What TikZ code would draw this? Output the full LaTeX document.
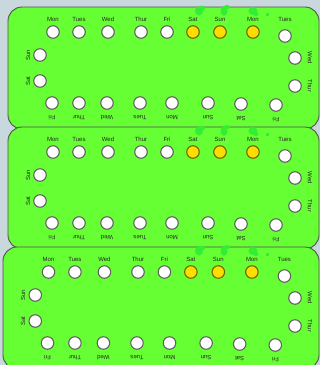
\documentclass[tikz,border=0pt]{standalone}
\usepackage{fontspec}
\setmainfont{Liberation Sans}
\definecolor{bgc}{HTML}{C9D8DC}
\definecolor{panelg}{HTML}{66FF33}
\definecolor{blobg}{HTML}{33EE33}
\definecolor{pillw}{HTML}{FFFFFF}
\definecolor{pilly}{HTML}{FFDD00}
\definecolor{edgeg}{HTML}{505050}
\tikzset{
  panelbox/.style={fill=panelg, draw=edgeg, line width=0.9pt, rounded corners=14pt},
  pill/.style={circle, draw=edgeg!90, line width=1.1pt, fill=pillw, minimum size=12.5pt, inner sep=0pt},
  ypill/.style={pill, fill=pilly, draw=black!55!pilly},
  lab/.style={font=\fontsize{6}{6}\selectfont, text=black!85, inner sep=0pt},
  blob/.style={fill=blobg, draw=none}
}
\newcommand\drawpanel[4]{%
  \draw[panelbox] (#3,7+#2) rectangle (319,129+#2);
  % blobs
  \fill[blob] (199,{11+#2}) ellipse (4pt and 4.5pt);
  \fill[blob] (202,{8+#2}) ellipse (3pt and 2.5pt);
  \fill[blob] (224,{11+#2}) ellipse (3.5pt and 5pt);
  \fill[blob] (227,{7+#2}) ellipse (3pt and 2pt);
  \fill[blob] (253,{11+#2}) ellipse (4.5pt and 4pt);
  \fill[blob] (256,{14+#2}) ellipse (2.5pt and 2pt);
  \fill[blob] (265.5,{12.5+#2}) rectangle (268.5,{15.5+#2});
  % top row
  \foreach \x/\n/\s/\d/\i in {53/Mon/pill/0/1,79/Tues/pill/0/2,108/Wed/pill/0/3,141/Thur/pill/0/4,167/Fri/pill/0/5,193/Sat/ypill/0/6,220/Sun/ypill/0/7,253/Mon/ypill/0/8,285/Tues/pill/4/9}{%
    \pgfmathsetmacro\xx{318-(318-\x)*#4}
    \node[\s] (p#1t\i) at (\xx,{32+\d+#2}) {};
    \node[lab] (p#1tl\i) at (\xx,{19+#2}) {\n};
  }
  % right column
  \foreach \y/\n/\i in {58/Wed/1,86/Thur/2}{%
    \node[pill] (p#1r\i) at (295,{\y+#2}) {};
    \node[lab, rotate=-90] (p#1rl\i) at (310,{\y+#2}) {\n};
  }
  % left column
  \foreach \y/\n/\i in {55/Sun/1,81/Sat/2}{%
    \pgfmathsetmacro\xx{318-(318-40)*#4}
    \pgfmathsetmacro\xl{318-(318-28)*#4}
    \node[pill] (p#1l\i) at (\xx,{\y+#2}) {};
    \node[lab, rotate=90] (p#1ll\i) at (\xl,{\y+#2}) {\n};
  }
  % bottom row
  \foreach \x/\n/\d/\i in {52/Fri/0/1,79/Thur/0/2,107/Wed/0/3,140/Tues/0/4,172/Mon/0/5,208/Sun/0/6,241/Sat/1/7,276/Fri/2/8}{%
    \pgfmathsetmacro\xx{318-(318-\x)*#4}
    \node[pill] (p#1b\i) at (\xx,{103+\d+#2}) {};
    \node[lab, rotate=180] (p#1bl\i) at (\xx,{118+\d+#2}) {\n};
  }
}
\begin{document}
\begin{tikzpicture}[x=1pt,y=-1pt]
\useasboundingbox (0,0) rectangle (320,365);
\fill[bgc] (0,0) rectangle (320,365);
\drawpanel{a}{0}{8}{1}
\drawpanel{b}{120}{8}{1}
\drawpanel{c}{240}{3}{1.017}
\end{tikzpicture}
\end{document}
